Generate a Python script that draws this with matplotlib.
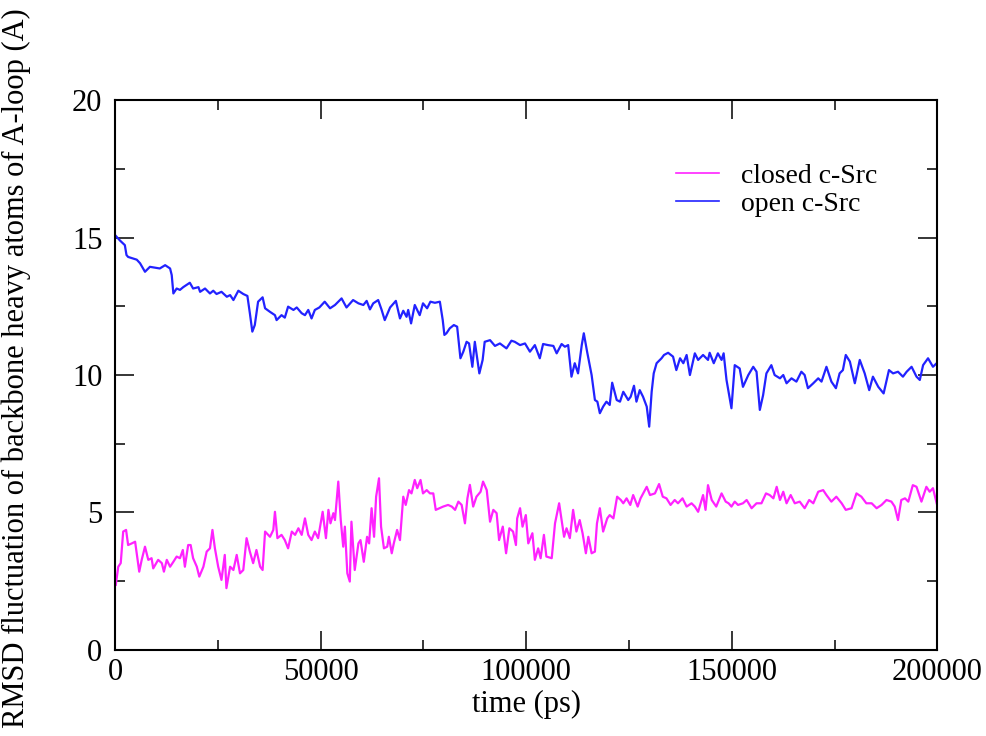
import numpy as np
import matplotlib
matplotlib.use('Agg')
import matplotlib.pyplot as plt
from matplotlib.ticker import MultipleLocator

# open c-Src: час (ps) та RMSD (A)
open_t = [0, 1200, 2400, 2800, 3200, 5300, 6100, 7300, 8500, 10900, 12200, 13400, 13800, 14200,
          15000, 15800, 16600, 18200, 19000, 20300, 20700, 21900, 23100, 23900, 24700, 25900,
          27200, 28000, 28800, 30000, 31200, 32200, 32800, 33400, 34000, 34800, 35900, 36500,
          37700, 38900, 39300, 40500, 41300, 42100, 43400, 44200, 45400, 46200, 47000, 47800,
          48600, 49700, 51000, 52300, 53500, 55100, 56300, 57900, 59200, 60400, 61200, 62000,
          62800, 64000, 64800, 65600, 66900, 68300, 69300, 70100, 70900, 71300, 72000, 72900,
          74100, 74900, 75900, 76700, 77800, 79000, 79700, 80100, 80600, 81400, 82400, 83200,
          84000, 84700, 85500, 86100, 86900, 87500, 88600, 89400, 89900, 91200, 92400, 93600,
          95200, 96400, 97200, 98500, 99700, 100900, 102100, 103300, 104100, 105300, 106600,
          107400, 108600, 109400, 110200, 111000, 111800, 112600, 113500, 114000, 114800,
          115900, 116700, 117300, 117900, 118700, 119500, 120300, 120900, 122000, 122800,
          123600, 124800, 125400, 126200, 126800, 127600, 128400, 129300, 129900, 130500,
          131000, 131700, 132900, 133500, 134500, 135700, 136500, 137400, 138200, 139000,
          139800, 141000, 141800, 143000, 144200, 144600, 145600, 146600, 147500, 148000,
          148700, 149900, 150700, 151900, 152700, 154000, 155200, 156000, 156800, 157600,
          158400, 159600, 160400, 161700, 162500, 163300, 164500, 165700, 166900, 167700,
          168500, 169800, 171000, 171800, 173000, 174200, 175300, 176200, 177000, 177700,
          178700, 179900, 181100, 182300, 183400, 184300, 185600, 186900, 188200, 189200,
          190400, 191600, 192500, 193700, 194900, 195700, 196500, 197700, 198900, 199800]
open_rmsd = [15.10, 14.90, 14.73, 14.37, 14.30, 14.20, 14.07, 13.76, 13.94, 13.88, 14.00, 13.88, 13.64, 12.97,
             13.15, 13.10, 13.20, 13.36, 13.15, 13.20, 13.03, 13.15, 12.97, 13.07, 12.95, 13.03,
             12.85, 12.91, 12.73, 13.07, 12.95, 12.88, 12.25, 11.58, 11.82, 12.67, 12.83, 12.43,
             12.30, 12.18, 12.00, 12.18, 12.09, 12.49, 12.37, 12.46, 12.25, 12.18, 12.37, 12.06,
             12.37, 12.46, 12.67, 12.43, 12.55, 12.79, 12.46, 12.73, 12.61, 12.55, 12.70, 12.39,
             12.61, 12.73, 12.39, 12.00, 12.46, 12.70, 12.06, 12.34, 12.12, 12.37, 11.88, 12.55,
             12.18, 12.61, 12.43, 12.67, 12.63, 12.67, 12.00, 11.46, 11.52, 11.70, 11.82, 11.76,
             10.61, 10.85, 11.21, 11.15, 10.30, 11.21, 10.06, 10.55, 11.21, 11.27, 11.06, 11.15,
             10.97, 11.25, 11.21, 11.09, 11.15, 10.85, 11.09, 10.61, 11.13, 11.09, 11.06,
             10.79, 11.13, 11.03, 11.09, 9.94, 10.43, 10.06, 11.09, 11.52, 10.85,
             10.00, 9.09, 9.03, 8.61, 8.85, 9.03, 8.91, 9.72, 9.09, 9.03,
             9.39, 9.09, 9.21, 9.61, 9.03, 9.45, 9.21, 8.85, 8.12, 9.39,
             10.06, 10.43, 10.61, 10.73, 10.81, 10.67, 10.18, 10.61, 10.43, 10.73,
             10.00, 10.79, 10.55, 10.73, 10.55, 10.81, 10.43, 10.79, 10.55, 10.79,
             9.82, 8.79, 10.36, 10.24, 9.57, 10.00, 10.30, 10.12, 8.73, 9.27,
             10.06, 10.36, 10.00, 9.88, 10.00, 9.70, 9.88, 9.76, 10.12, 10.00,
             9.52, 9.70, 9.88, 9.76, 10.30, 9.76, 9.52, 10.06, 10.18, 10.73,
             10.49, 9.70, 10.55, 10.06, 9.45, 9.94, 9.57, 9.33, 10.18, 10.06,
             10.12, 9.94, 10.12, 10.30, 9.94, 9.82, 10.36, 10.61, 10.30, 10.43]

# closed c-Src
closed_t = [200, 800, 1400, 2000, 2700, 3200, 4100, 4900, 5400, 5900, 6500, 7300, 8100, 8900, 9300,
            10500, 11400, 11900, 12600, 13400, 14200, 15000, 15800, 16500, 17000, 17800, 18400,
            19000, 19900, 20500, 21500, 22300, 23100, 23700, 24300, 25100, 25900, 26700, 27100,
            28000, 28800, 29600, 30400, 31200, 32000, 32800, 33600, 34400, 35300, 35900, 36500,
            37700, 38500, 38900, 39500, 40500, 41300, 42100, 43000, 43800, 44600, 45400, 46200,
            47000, 47800, 48600, 49400, 50500, 51300, 51900, 52400, 53100, 53500, 54300, 54900,
            55500, 55900, 56500, 57100, 57500, 58300, 59200, 59700, 60500, 61300, 61800, 62400,
            63000, 63500, 64200, 64700, 65400, 66200, 66600, 67300, 67800, 68600, 69300, 70100,
            70700, 71500, 72100, 72900, 73500, 74300, 74900, 75800, 76600, 77400, 78000, 78900,
            79800, 81000, 81900, 82700, 83500, 84300, 85100, 85700, 86300, 87100, 87900, 88900,
            89500, 90400, 91200, 92000, 92800, 93400, 94300, 95100, 95900, 96800, 97500, 97800,
            98500, 99100, 99900, 100500, 101500, 102100, 102900, 103500, 104300, 104900, 106200,
            107000, 108000, 109200, 109800, 110600, 111400, 112200, 113000, 113700, 114500,
            115100, 115900, 116700, 117200, 117900, 118700, 119700, 120300, 121200, 122100,
            123000, 123600, 124400, 125300, 126000, 127100, 127800, 129300, 130100, 131300,
            132300, 133200, 134100, 135100, 136100, 136900, 138000, 139000, 140200, 141000,
            141800, 143000, 143600, 144200, 145100, 146200, 147500, 148500, 149200, 149900,
            150700, 151500, 152700, 153600, 154800, 156000, 157200, 158300, 159200, 160100,
            160900, 161700, 162500, 163300, 164300, 165300, 166500, 167700, 168800, 169800,
            171000, 172200, 173000, 174200, 175400, 176700, 177700, 179100, 180300, 181500,
            182700, 184000, 185200, 186400, 187600, 188800, 189600, 190400, 191200, 192100,
            192900, 194000, 194900, 196100, 197300, 198100, 198900, 199800]
closed_rmsd = [2.36, 3.02, 3.15, 4.30, 4.36, 3.81, 3.87, 3.93, 3.39, 2.84, 3.27, 3.75, 3.27, 3.33, 2.96,
               3.27, 3.15, 2.84, 3.27, 3.02, 3.20, 3.39, 3.33, 3.63, 3.02, 3.81, 3.81,
               3.33, 3.02, 2.66, 3.02, 3.57, 3.69, 4.36, 3.69, 3.02, 2.54, 3.45, 2.24,
               3.02, 2.90, 3.45, 2.78, 2.90, 4.06, 3.57, 3.15, 3.63, 3.02, 2.90, 4.30,
               4.11, 4.36, 5.02, 4.06, 4.18, 3.99, 3.69, 4.30, 4.18, 4.42, 4.18, 4.78,
               4.18, 3.99, 4.30, 4.06, 5.02, 4.06, 5.09, 4.60, 4.97, 4.72, 6.12, 4.72,
               3.75, 4.48, 2.78, 2.48, 4.66, 2.90, 3.87, 3.99, 3.20, 4.11, 3.87, 5.15,
               4.11, 5.57, 6.24, 4.48, 3.69, 3.75, 4.11, 3.51, 3.87, 4.36, 3.99, 5.57,
               5.27, 5.81, 5.69, 6.18, 5.88, 6.18, 5.69, 5.81, 5.69, 5.69, 5.09, 5.15,
               5.21, 5.27, 5.21, 5.09, 5.39, 5.27, 4.60, 5.51, 6.00, 5.21, 5.57, 5.75,
               6.12, 5.81, 4.66, 5.09, 4.97, 3.99, 4.48, 3.51, 4.42, 4.30, 3.81, 4.78,
               5.15, 4.48, 4.90, 3.87, 4.24, 3.27, 3.69, 3.33, 4.18, 3.39, 3.33,
               4.60, 5.33, 4.11, 4.42, 4.06, 5.09, 4.30, 4.72, 4.24, 3.51,
               4.11, 3.51, 3.57, 4.60, 5.15, 4.30, 4.78, 4.90, 4.78, 5.57,
               5.45, 5.33, 5.51, 5.27, 5.63, 5.21, 5.51, 5.93, 5.63, 5.69,
               6.03, 5.57, 5.51, 5.27, 5.45, 5.33, 5.51, 5.21, 5.33, 5.21,
               5.02, 5.63, 5.09, 5.99, 5.45, 5.21, 5.69, 5.39, 5.33, 5.21,
               5.39, 5.27, 5.33, 5.45, 5.15, 5.33, 5.33, 5.69, 5.63, 5.51,
               5.93, 5.45, 5.75, 5.33, 5.63, 5.33, 5.39, 5.15, 5.45, 5.33,
               5.75, 5.81, 5.63, 5.39, 5.57, 5.33, 5.09, 5.15, 5.69, 5.57,
               5.33, 5.33, 5.15, 5.27, 5.45, 5.39, 5.21, 4.72, 5.45, 5.51,
               5.39, 5.99, 5.93, 5.39, 5.93, 5.75, 5.88, 5.33]

x_ticks = [0, 50000, 100000, 150000, 200000]
y_ticks = [0, 5, 10, 15, 20]

plt.rcParams['font.family'] = ['Liberation Serif', 'DejaVu Serif']

fig = plt.figure(figsize=(9.86, 7.36), dpi=100)
ax = fig.add_axes([0.1166, 0.1173, 0.8342, 0.7463])

# лінії як у xmgrace
ax.plot(closed_t, closed_rmsd, color='#ff22ff', lw=1.6, label='closed c-Src')
ax.plot(open_t, open_rmsd, color='#2222ff', lw=1.6, label='open c-Src')

ax.set_xlim(0, 200000)
ax.set_ylim(0, 20)
ax.set_xticks(x_ticks)
ax.set_yticks(y_ticks)
ax.xaxis.set_minor_locator(MultipleLocator(25000))
ax.yaxis.set_minor_locator(MultipleLocator(2.5))
ax.tick_params(which='both', direction='in', top=True, right=True, width=1.1, labelsize=22)
ax.tick_params(which='major', length=14)
ax.tick_params(which='minor', length=7)
ax.tick_params(axis='y', pad=9)
ax.tick_params(axis='x', pad=6)
for s in ax.spines.values():
    s.set_linewidth(1.5)

ax.set_xlabel('time (ps)', fontsize=22, labelpad=2)
fig.text(0.016, 0.5, 'RMSD fluctuation of backbone heavy atoms of A-loop (A)',
         rotation=90, ha='center', va='center', fontsize=22)

leg = ax.legend(loc='upper left', bbox_to_anchor=(0.682, 0.885), frameon=False, fontsize=20,
                handlelength=1.55, handletextpad=0.8, labelspacing=0.08, borderpad=0, borderaxespad=0)
for line in leg.get_lines():
    line.set_linewidth(1.2)

fig.savefig('out.png', dpi=100)
